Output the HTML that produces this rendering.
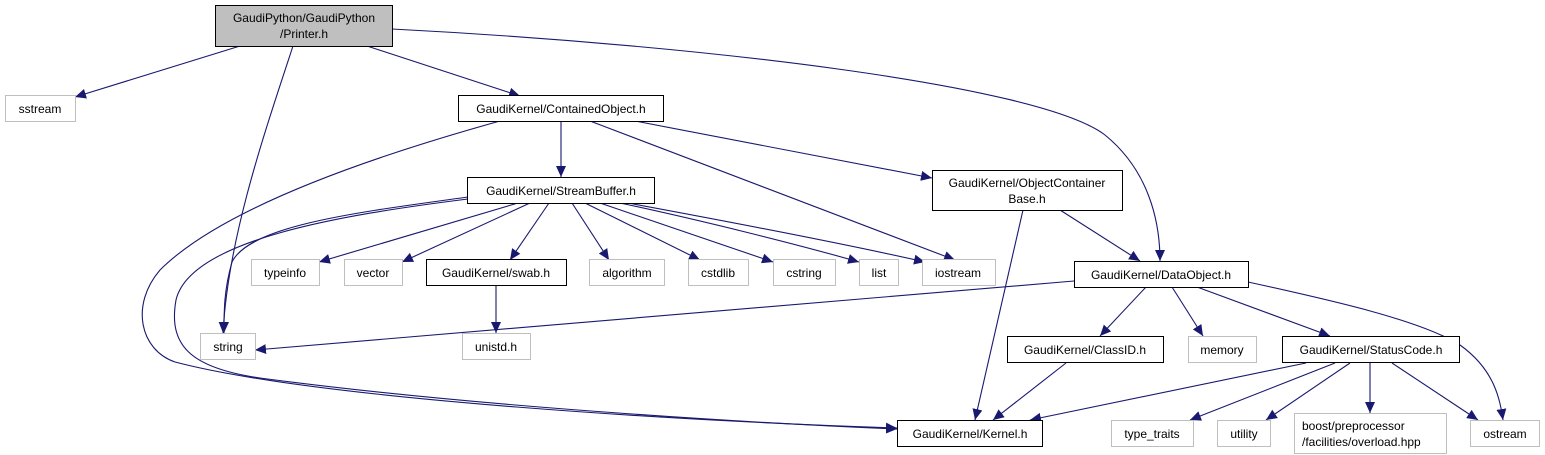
<!DOCTYPE html>
<html><head><meta charset="utf-8"><style>
html,body{margin:0;padding:0;background:#fff;}
svg{display:block;}
text{font-family:"Liberation Sans",Arial,sans-serif;font-size:12px;fill:#000;}
</style></head><body>
<svg width="1545" height="455" viewBox="0 0 1545 455" xmlns="http://www.w3.org/2000/svg">
<defs>
<marker id="a" markerWidth="12" markerHeight="10" refX="11" refY="5" orient="auto" markerUnits="userSpaceOnUse">
<path d="M0,0 L11,5 L0,10 Z" fill="#191970"/>
</marker>
</defs>
<g fill="none" stroke="#191970" stroke-width="1.1" marker-end="url(#a)">
<path d="M240,46 L75,97"/>
<path d="M293,46 C262,140 228,240 223,333"/>
<path d="M367,46 L520,96"/>
<path d="M392,29 C700,45 1040,85 1105,135 C1148,170 1160,220 1160,261"/>
<path d="M561,121 L561,177"/>
<path d="M500,121 C360,160 220,210 160,270 C130,305 140,350 175,362 C320,400 700,422 897,428"/>
<path d="M590,121 L955,260"/>
<path d="M635,121 L932,178"/>
<path d="M468,197 C360,212 250,225 232,262 C224,290 224,310 224,333"/>
<path d="M468,199 C340,215 190,240 176,300 C168,345 190,368 260,378 C500,410 800,425 897,429"/>
<path d="M518,203 L319,262"/>
<path d="M530,203 L402,262"/>
<path d="M549,203 L510,260"/>
<path d="M572,203 L609,260"/>
<path d="M585,203 L700,260"/>
<path d="M600,203 L773,262"/>
<path d="M620,203 C700,220 800,245 859,262"/>
<path d="M628,203 C720,220 850,245 925,262"/>
<path d="M496,285 L496,333"/>
<path d="M1023,210 L975,420"/>
<path d="M1060,210 L1140,261"/>
<path d="M1074,281 L255,350"/>
<path d="M1146,287 L1100,336"/>
<path d="M1172,287 L1203,336"/>
<path d="M1197,287 L1330,336"/>
<path d="M1248,282 C1330,300 1420,320 1460,345 C1495,370 1500,400 1503,420"/>
<path d="M1066,363 L993,420"/>
<path d="M1306,363 L1030,420"/>
<path d="M1335,363 L1190,420"/>
<path d="M1350,363 L1266,420"/>
<path d="M1370,363 L1370,413"/>
<path d="M1392,363 L1478,420"/>
</g>
<g stroke-width="1">
<rect x="215.5" y="5.5" width="177" height="41" fill="#bfbfbf" stroke="#000"/>
<g fill="#fff" stroke="#000">
<rect x="458.5" y="95.5" width="205" height="26"/>
<rect x="467.5" y="177.5" width="187" height="26"/>
<rect x="932.5" y="170.5" width="190" height="40"/>
<rect x="426.5" y="259.5" width="140" height="26"/>
<rect x="1074.5" y="261.5" width="174" height="26"/>
<rect x="1007.5" y="336.5" width="156" height="26"/>
<rect x="1282.5" y="336.5" width="177" height="26"/>
<rect x="897.5" y="420.5" width="145" height="26"/>
</g>
<g fill="#fff" stroke="#bfbfbf">
<rect x="5.5" y="95.5" width="70" height="26"/>
<rect x="251.5" y="259.5" width="68" height="26"/>
<rect x="344.5" y="259.5" width="58" height="26"/>
<rect x="589.5" y="259.5" width="75" height="26"/>
<rect x="688.5" y="259.5" width="60" height="26"/>
<rect x="773.5" y="259.5" width="62" height="26"/>
<rect x="859.5" y="259.5" width="39" height="26"/>
<rect x="922.5" y="259.5" width="73" height="26"/>
<rect x="200.5" y="333.5" width="55" height="26"/>
<rect x="462.5" y="333.5" width="68" height="26"/>
<rect x="1188.5" y="336.5" width="68" height="26"/>
<rect x="1111.5" y="420.5" width="82" height="26"/>
<rect x="1217.5" y="420.5" width="53" height="26"/>
<rect x="1294.5" y="413.5" width="152" height="40"/>
<rect x="1470.5" y="420.5" width="69" height="26"/>
</g>
</g>
<g text-anchor="middle">
<text x="304" y="22">GaudiPython/GaudiPython</text>
<text x="304" y="38">/Printer.h</text>
<text x="40" y="113">sstream</text>
<text x="561" y="113">GaudiKernel/ContainedObject.h</text>
<text x="561" y="195">GaudiKernel/StreamBuffer.h</text>
<text x="1027" y="187">GaudiKernel/ObjectContainer</text>
<text x="1027" y="203">Base.h</text>
<text x="285" y="277">typeinfo</text>
<text x="373" y="277">vector</text>
<text x="496" y="277">GaudiKernel/swab.h</text>
<text x="627" y="277">algorithm</text>
<text x="718" y="277">cstdlib</text>
<text x="804" y="277">cstring</text>
<text x="879" y="277">list</text>
<text x="958" y="277">iostream</text>
<text x="1161" y="279">GaudiKernel/DataObject.h</text>
<text x="228" y="351">string</text>
<text x="496" y="351">unistd.h</text>
<text x="1085" y="354">GaudiKernel/ClassID.h</text>
<text x="1222" y="354">memory</text>
<text x="1371" y="354">GaudiKernel/StatusCode.h</text>
<text x="970" y="438">GaudiKernel/Kernel.h</text>
<text x="1152" y="438">type_traits</text>
<text x="1244" y="438">utility</text>
<text x="1505" y="438">ostream</text>
</g>
<text x="1302" y="430">boost/preprocessor</text>
<text x="1302" y="446">/facilities/overload.hpp</text>
</svg>
</body></html>
